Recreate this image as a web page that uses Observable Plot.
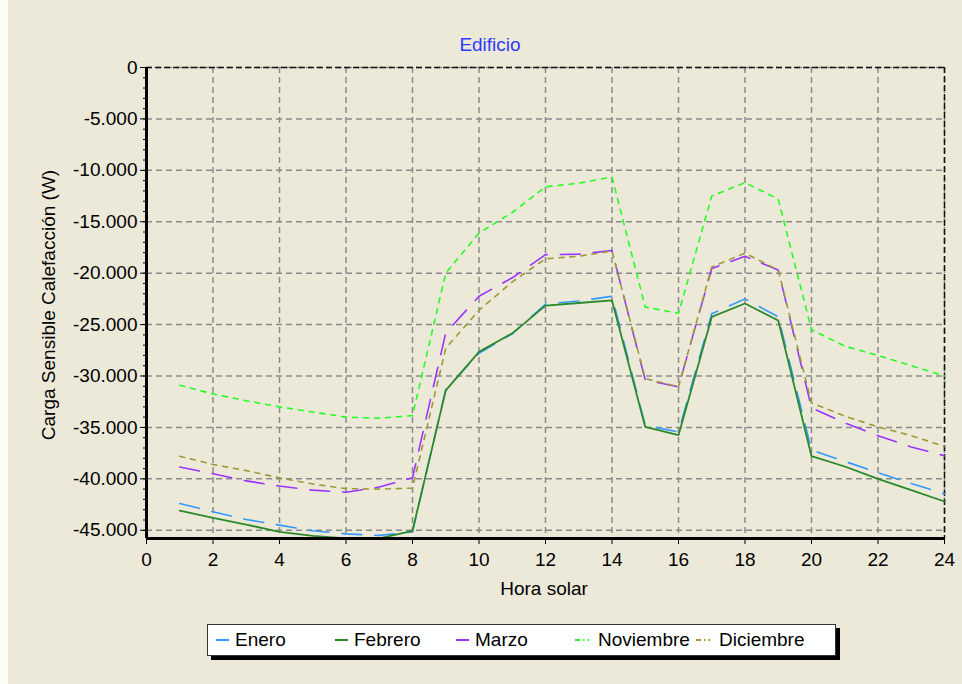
<!DOCTYPE html>
<html>
<head>
<meta charset="utf-8">
<script src="https://cdn.jsdelivr.net/npm/d3@7"></script>
<script src="https://cdn.jsdelivr.net/npm/@observablehq/plot@0.6"></script>
<style>
  body { margin: 0; background: #ffffff; }
  #wrap { position: relative; width: 962px; height: 684px; background: #ECE9D8; overflow: hidden;
          font-family: "Liberation Sans", Arial, sans-serif; }
  #strip { position: absolute; left: 0; top: 0; width: 8px; height: 684px; background: #fbfbf8; }
  #chart { position: absolute; left: 0; top: 0; }
  .lbl { position: absolute; font-size: 19px; color: #000; white-space: nowrap; line-height: 1; }
  #title { left: 390px; width: 200px; top: 35px; text-align: center; color: #2f3cff; }
  #xlabel { left: 444px; width: 200px; top: 579px; text-align: center; }
  #ylabel { left: 48px; top: 305px; transform: translate(-50%, -50%) rotate(-90deg); }
  #legshadow { position: absolute; left: 211px; top: 628px; width: 629px; height: 32px; background: #000; }
  #legend { position: absolute; left: 207px; top: 624px; width: 627px; height: 30px; background: #fff;
            border: 1px solid #333; }
  .item { position: absolute; top: 0; height: 30px; display: flex; align-items: center; font-size: 19px; }
  .item svg { margin-right: 6px; }
</style>
</head>
<body>
<div id="wrap">
  <div id="strip"></div>
  <div id="chart"></div>
  <div id="title" class="lbl">Edificio</div>
  <div id="xlabel" class="lbl">Hora solar</div>
  <div id="ylabel" class="lbl">Carga Sensible Calefacción (W)</div>
  <div id="legshadow"></div>
  <div id="legend"></div>
</div>
<script>
// ---- data ----
const hours = [1,2,3,4,5,6,7,8,9,10,11,12,13,14,15,16,17,18,19,20,21,22,23,24];
const enero = [-42400,-43200,-43950,-44500,-45050,-45350,-45500,-45150,-31300,-27800,-25900,-23000,-22700,-22250,-34800,-35450,-23950,-22500,-24250,-37200,-38300,-39400,-40450,-41450];
const febrero = [-43100,-43800,-44450,-45150,-45550,-45780,-45780,-45050,-31400,-27650,-25850,-23150,-22900,-22650,-34950,-35750,-24250,-22950,-24600,-37800,-38800,-40000,-41100,-42200];
const marzo = [-38850,-39500,-40200,-40700,-41100,-41300,-40800,-39900,-25800,-22250,-20450,-18200,-18150,-17800,-30400,-31050,-19550,-18350,-19700,-33100,-34550,-35800,-36900,-37750];
const noviembre = [-30900,-31750,-32400,-33000,-33500,-34000,-34100,-33850,-20000,-16100,-14100,-11600,-11250,-10650,-23300,-23900,-12500,-11200,-12800,-25500,-27100,-28000,-29000,-30000];
const diciembre = [-37800,-38600,-39200,-39900,-40500,-40950,-41000,-40900,-27300,-23600,-20850,-18600,-18350,-17850,-30250,-31050,-19400,-18050,-19700,-32600,-33900,-34950,-35800,-36850];
const seriesNames = ["Enero","Febrero","Marzo","Noviembre","Diciembre"];
const xTicks = [0,2,4,6,8,10,12,14,16,18,20,22,24];
const yTicks = [0,-5000,-10000,-15000,-20000,-25000,-30000,-35000,-40000,-45000];
const yMinor = d3.range(-45000, 1, 1000);

// styles
const styles = {
  Enero:     {stroke: "#3399ff", dash: "20,13", width: 1.6},
  Febrero:   {stroke: "#2a8a2a", dash: null,    width: 1.8},
  Marzo:     {stroke: "#9b33ff", dash: "20,13", width: 1.6},
  Noviembre: {stroke: "#22ff22", dash: "5,6",   width: 1.6},
  Diciembre: {stroke: "#9c9a38", dash: "5,6",   width: 1.6}
};
const valuesBy = {Enero: enero, Febrero: febrero, Marzo: marzo, Noviembre: noviembre, Diciembre: diciembre};
const rows = name => hours.map((h, i) => ({hour: h, value: valuesBy[name][i], serie: name}));

const fmt = v => v === 0 ? "0" : "-" + d3.format(",")(Math.abs(v)).replace(/,/g, ".");

const lineMarks = seriesNames.map(name => Plot.line(rows(name), {
  x: "hour", y: "value",
  stroke: styles[name].stroke,
  strokeWidth: styles[name].width,
  strokeDasharray: styles[name].dash || undefined,
  strokeLinejoin: "miter"
}));

const chart = Plot.plot({
  width: 962,
  height: 600,
  marginLeft: 146,
  marginRight: 18,
  marginTop: 67,
  marginBottom: 62,
  style: {background: "transparent", fontFamily: "'Liberation Sans', Arial, sans-serif", fontSize: "19px", color: "#000", overflow: "visible"},
  x: {domain: [0, 24]},
  y: {domain: [-45800, 0]},
  marks: [
    Plot.gridX(xTicks, {stroke: "#8a8a8a", strokeOpacity: 1, strokeWidth: 1.5, strokeDasharray: "6,4"}),
    Plot.gridY(yTicks, {stroke: "#8a8a8a", strokeOpacity: 1, strokeWidth: 1.5, strokeDasharray: "6,4"}),
    Plot.ruleY([0], {stroke: "#111", strokeWidth: 1.5, strokeDasharray: "6,3"}),
    Plot.ruleX([24], {stroke: "#111", strokeWidth: 1.5, strokeDasharray: "6,3"}),
    ...lineMarks,
    Plot.ruleX([0], {stroke: "#000", strokeWidth: 3}),
    Plot.ruleY([-45800], {stroke: "#000", strokeWidth: 3}),
    Plot.axisX(xTicks, {tickSize: 6, tickPadding: 8, label: null, fontSize: 19, tickFormat: d => String(d)}),
    Plot.axisY(yTicks, {tickSize: 6, tickPadding: 3, label: null, fontSize: 19, tickFormat: fmt}),
    Plot.axisY(yMinor, {tickSize: 3, label: null, tickFormat: () => ""})
  ]
});
document.getElementById("chart").appendChild(chart);

// legend
const legendPos = {Enero: 8, Febrero: 127, Marzo: 248, Noviembre: 367, Diciembre: 488};
const legendSw = {Enero: "none", Febrero: "none", Marzo: "none", Noviembre: "5,3,1.5,3,1.5,3", Diciembre: "5,3,1.5,3,1.5,3"};
const legend = document.getElementById("legend");
for (const name of seriesNames) {
  const wide = (name === "Noviembre" || name === "Diciembre");
  const w = wide ? 17 : 13;
  const div = document.createElement("div");
  div.className = "item";
  div.style.left = legendPos[name] + "px";
  div.innerHTML = `<svg width="${w}" height="4"><line x1="0" y1="2" x2="${w}" y2="2" stroke="${styles[name].stroke}" stroke-width="2" ${legendSw[name] !== "none" ? `stroke-dasharray="${legendSw[name]}"` : ""}/></svg><span>${name}</span>`;
  legend.appendChild(div);
}
</script>
</body>
</html>
